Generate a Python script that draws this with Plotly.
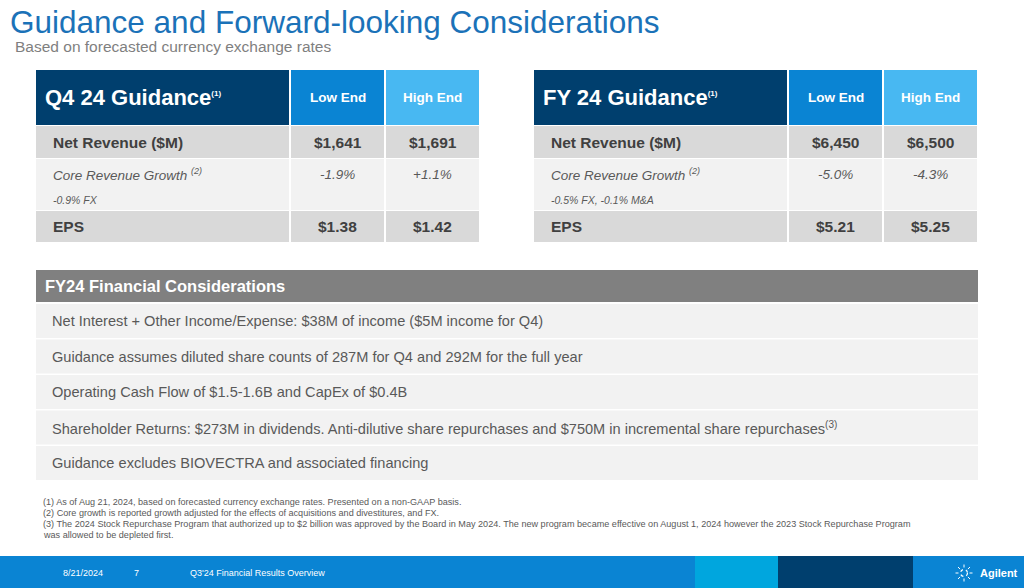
'''
    Agilent Q3'24 guidance slide rebuilt as a Plotly figure.
'''

import math

import plotly.graph_objects as go

FONT = 'Arial, Liberation Sans, sans-serif'

title_text = 'Guidance and Forward-looking Considerations'
subtitle_text = 'Based on forecasted currency exchange rates'

range_cols = ['Low End', 'High End']
row_labels = ['Net Revenue ($M)', 'Core Revenue Growth', 'EPS']

q4_title = 'Q4 24 Guidance'
q4_low = ['$1,641', '-1.9%', '$1.38']
q4_high = ['$1,691', '+1.1%', '$1.42']
q4_growth_note = '-0.9% FX'

fy_title = 'FY 24 Guidance'
fy_low = ['$6,450', '-5.0%', '$5.21']
fy_high = ['$6,500', '-4.3%', '$5.25']
fy_growth_note = '-0.5% FX, -0.1% M&A'

considerations_title = 'FY24 Financial Considerations'
considerations = [
    'Net Interest + Other Income/Expense: $38M of income ($5M income for Q4)',
    'Guidance assumes diluted share counts of 287M for Q4 and 292M for the full year',
    'Operating Cash Flow of $1.5-1.6B and CapEx of $0.4B',
    'Shareholder Returns: $273M in dividends. Anti-dilutive share repurchases and $750M in incremental share repurchases'
    '<sup><span style="font-size:10px">(3)</span></sup>',
    'Guidance excludes BIOVECTRA and associated financing',
]

footnotes = [
    '(1) As of Aug 21, 2024, based on forecasted currency exchange rates. Presented on a non-GAAP basis.',
    '(2) Core growth is reported growth adjusted for the effects of acquisitions and divestitures, and FX.',
    '(3) The 2024 Stock Repurchase Program that authorized up to $2 billion was approved by the Board in May 2024. '
    'The new program became effective on August 1, 2024 however the 2023 Stock Repurchase Program',
    'was allowed to be depleted first.',
]

footer_date = '8/21/2024'
footer_page = '7'
footer_deck = "Q3'24 Financial Results Overview"
brand = 'Agilent'

# colours
NAVY = '#003F6E'
BLUE = '#0A84D3'
SKY = '#48B8F2'
CYAN = '#00A6DE'
GRAY_HDR = '#808080'
ROW_DARK = '#D9D9D9'
ROW_LIGHT = '#F2F2F2'
TXT_DARK = '#404040'
TXT_MID = '#595959'
TITLE_BLUE = '#1B72B8'


def rect(fig, x0, y0, x1, y1, color):
    fig.add_shape(type='rect', x0=x0, y0=y0, x1=x1, y1=y1,
                  fillcolor=color, line=dict(width=0), layer='below')


def text(fig, x, y, s, size, color, anchor='left', bold=False, italic=False):
    if bold:
        s = f'<b>{s}</b>'
    if italic:
        s = f'<i>{s}</i>'
    fig.add_annotation(x=x, y=y, text=s, showarrow=False, xanchor=anchor, yanchor='middle',
                       font=dict(family=FONT, size=size, color=color))


def sup(s, size):
    return f'<sup><span style="font-size:{size}px">{s}</span></sup>'


def guidance_table(fig, x0, title, low, high, note):
    label_w, col_w, gap = 253, 93, 2
    header = (70, 125)
    rows = [(126, 158), (159, 210), (211, 242)]
    cols = [(x0, x0 + label_w),
            (x0 + label_w + gap, x0 + label_w + gap + col_w),
            (x0 + label_w + 2 * gap + col_w, x0 + label_w + 2 * gap + 2 * col_w)]

    for (cx0, cx1), color in zip(cols, [NAVY, BLUE, SKY]):
        rect(fig, cx0, header[0], cx1, header[1], color)
    hy = (header[0] + header[1]) / 2
    text(fig, x0 + 7, hy, title + sup('(1)', 8), 22, 'white', bold=True)
    for (cx0, cx1), name in zip(cols[1:], range_cols):
        text(fig, (cx0 + cx1) / 2, hy, name, 13.5, 'white', anchor='center', bold=True)

    for i, (ry0, ry1) in enumerate(rows):
        shade = ROW_LIGHT if i == 1 else ROW_DARK
        for cx0, cx1 in cols:
            rect(fig, cx0, ry0, cx1, ry1, shade)
        if i == 1:
            yy = 174
            text(fig, x0 + 15, yy, row_labels[i] + ' ' + sup('(2)', 9), 13.5, TXT_MID, italic=True)
            text(fig, x0 + 15, 200, note, 10.5, TXT_MID, italic=True)
            for (cx0, cx1), v in zip(cols[1:], [low[i], high[i]]):
                text(fig, (cx0 + cx1) / 2, yy, v, 13.5, TXT_MID, anchor='center', italic=True)
        else:
            yy = (ry0 + ry1) / 2
            text(fig, x0 + 15, yy, row_labels[i], 15.5, TXT_DARK, bold=True)
            for (cx0, cx1), v in zip(cols[1:], [low[i], high[i]]):
                text(fig, (cx0 + cx1) / 2, yy, v, 15.5, TXT_DARK, anchor='center', bold=True)


def main():
    fig = go.Figure()

    text(fig, 8, 22, title_text, 31.5, TITLE_BLUE)
    text(fig, 13, 46, subtitle_text, 15.5, '#7F7F7F')

    guidance_table(fig, 36, q4_title, q4_low, q4_high, q4_growth_note)
    guidance_table(fig, 534, fy_title, fy_low, fy_high, fy_growth_note)

    # considerations block
    rect(fig, 36, 270, 978, 302, GRAY_HDR)
    text(fig, 43, 286, considerations_title, 16.5, 'white', bold=True)
    top, h, gap = 304, 34, 1.5
    for i, line in enumerate(considerations):
        y0 = top + i * (h + gap)
        rect(fig, 36, y0, 978, y0 + h, ROW_LIGHT)
        text(fig, 50, y0 + h / 2, line, 14.6, TXT_MID)

    for i, note in enumerate(footnotes):
        text(fig, 41, 502 + i * 11, note, 9.1, TXT_MID)

    # footer band
    rect(fig, 0, 556, 1024, 588, BLUE)
    rect(fig, 695, 556, 778, 588, CYAN)
    rect(fig, 778, 556, 913, 588, NAVY)
    text(fig, 61, 573, footer_date, 9, 'white')
    text(fig, 132, 573, footer_page, 9, 'white')
    text(fig, 188, 573, footer_deck, 9, 'white')
    text(fig, 978, 573, brand, 11, 'white', bold=True)

    cx, cy = 964, 573
    fig.add_shape(type='circle', x0=cx - 3.5, y0=cy - 3.5, x1=cx + 3.5, y1=cy + 3.5,
                  line=dict(color='white', width=1.2, dash='dot'))
    for k in range(8):
        a = k * math.pi / 4
        r1 = 5.5
        r2 = 11 if k % 2 == 0 else 8.5
        fig.add_shape(type='line', x0=cx + r1 * math.cos(a), y0=cy + r1 * math.sin(a),
                      x1=cx + r2 * math.cos(a), y1=cy + r2 * math.sin(a),
                      line=dict(color='white', width=1, dash='dot'))

    fig.update_layout(
        width=1024, height=588,
        margin=dict(l=0, r=0, t=0, b=0),
        paper_bgcolor='white', plot_bgcolor='white',
        xaxis=dict(range=[0, 1024], visible=False, fixedrange=True),
        yaxis=dict(range=[588, 0], visible=False, fixedrange=True),
        showlegend=False,
    )
    # drop the default body margin so the slide sits flush in the window
    fig.write_html('out.html', config={'displayModeBar': False},
                   post_script="document.body.style.margin='0';")


if __name__ == '__main__':
    main()
